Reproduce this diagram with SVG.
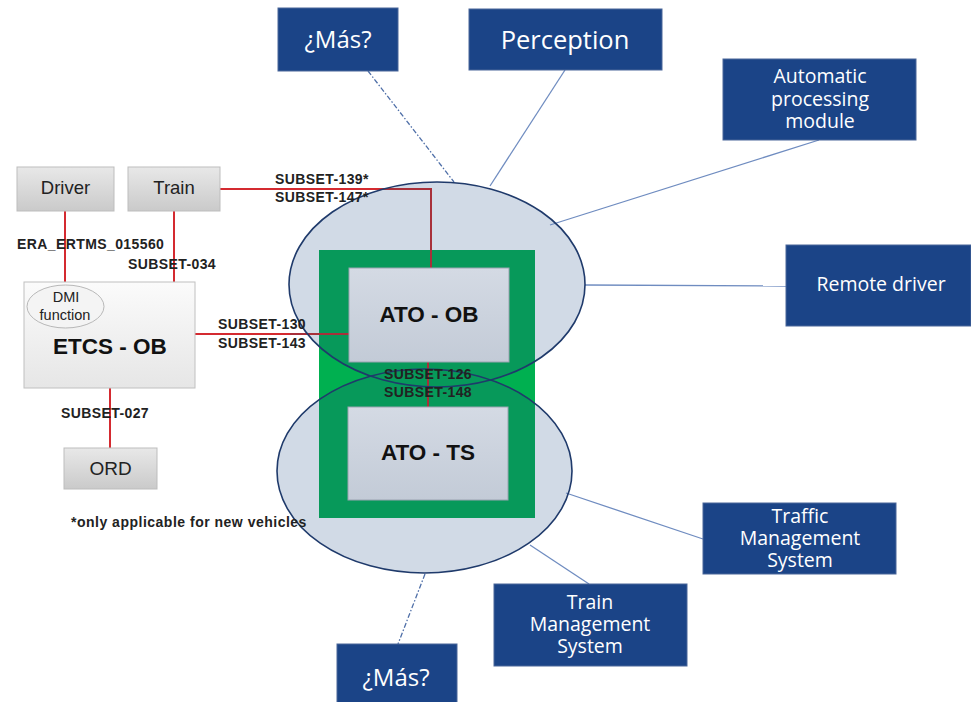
<svg xmlns="http://www.w3.org/2000/svg" width="971" height="702" viewBox="0 0 971 702">
<defs>
<style>
.gbox{fill:url(#gGray);stroke:#BDBDBD;stroke-width:1}
.gtxt{font-family:"Liberation Sans",Arial,sans-serif;font-size:18.5px;fill:#222;text-anchor:middle}
.lbl{font-family:"Liberation Sans",Arial,sans-serif;font-size:14px;font-weight:bold;fill:#222;letter-spacing:0.4px}
.bbox{fill:#1B4487;stroke:#4A6699;stroke-width:1}
.btxt{font-family:"Open Sans","Noto Sans",sans-serif;font-size:19.5px;fill:#FFFFFF;text-anchor:middle}
.big{font-size:25.5px}
.mas{font-size:24px}
.red{stroke:#D42A30;stroke-width:2;fill:none}
.dred{stroke:#A8303A;stroke-width:2;fill:none}
.blu{stroke:#6F8CC0;stroke-width:1.3;fill:none}
.dash{stroke:#4F6FA8;stroke-width:1.3;fill:none;stroke-dasharray:5 2 1.5 2}
.ell{fill:none;stroke:#1F3A6B;stroke-width:1.6}
.atobox{fill:url(#gAto);stroke:#9AA3B0;stroke-width:1}
.atotxt{font-family:"Liberation Sans",Arial,sans-serif;font-size:22.5px;font-weight:bold;fill:#111;text-anchor:middle}
</style>
<linearGradient id="gGray" x1="0" y1="0" x2="0" y2="1"><stop offset="0" stop-color="#E8E8E8"/><stop offset="1" stop-color="#CACACA"/></linearGradient>
<linearGradient id="gEtcs" x1="0" y1="0" x2="0" y2="1"><stop offset="0" stop-color="#FBFBFB"/><stop offset="1" stop-color="#E6E6E6"/></linearGradient>
<linearGradient id="gAto" x1="0" y1="0" x2="0" y2="1"><stop offset="0" stop-color="#D4DAE4"/><stop offset="1" stop-color="#C3CBD7"/></linearGradient>
<clipPath id="clipGreen"><rect x="319" y="250" width="216" height="268"/></clipPath>
</defs>
<rect x="0" y="0" width="971" height="702" fill="#FFFFFF"/>

<g id="ellipse-fills">
<ellipse cx="437" cy="284.5" rx="148" ry="102.5" fill="#D1DAE6"/>
<ellipse cx="424.5" cy="471" rx="147.5" ry="102" fill="#D1DAE6"/>
</g>

<g id="ato-frame">
<rect x="319" y="250" width="216" height="268" fill="#00B050"/>
<g clip-path="url(#clipGreen)">
<ellipse cx="437" cy="284.5" rx="148" ry="102.5" fill="#07995A"/>
<ellipse cx="424.5" cy="471" rx="147.5" ry="102" fill="#07995A"/>
</g>
</g>

<g id="connectors">
<line class="red" x1="65" y1="211" x2="65" y2="285"/>
<line class="red" x1="174" y1="211" x2="174" y2="282"/>
<polyline class="red" points="220,189 383,189"/>
<polyline class="dred" points="383,189 431,189 431,268"/>
<line class="red" x1="195" y1="334" x2="290" y2="334"/>
<line class="dred" x1="290" y1="334" x2="349" y2="334"/>
<line class="dred" x1="428" y1="362" x2="428" y2="407"/>
<line class="red" x1="110" y1="388" x2="110" y2="448"/>
<line class="dash" x1="368" y1="71" x2="454" y2="182"/>
<line class="blu" x1="565" y1="70" x2="490" y2="186"/>
<line class="blu" x1="819" y1="140" x2="550" y2="225"/>
<line class="blu" x1="585" y1="285" x2="786" y2="286"/>
<line class="blu" x1="566" y1="493" x2="703" y2="539"/>
<line class="blu" x1="530" y1="545" x2="589" y2="584"/>
<line class="dash" x1="425" y1="574" x2="398" y2="644"/>
</g>

<g id="ellipse-outlines">
<ellipse class="ell" cx="437" cy="284.5" rx="148" ry="102.5"/>
<ellipse class="ell" cx="424.5" cy="471" rx="147.5" ry="102"/>
</g>

<g id="ato-ob">
<rect class="atobox" x="349" y="268" width="160" height="94"/>
<text class="atotxt" x="429" y="322">ATO - OB</text>
</g>
<g id="ato-ts">
<rect class="atobox" x="348" y="407" width="160" height="93"/>
<text class="atotxt" x="428" y="460">ATO - TS</text>
</g>

<g id="driver">
<rect class="gbox" x="17" y="167" width="97" height="44"/>
<text class="gtxt" x="65.5" y="194">Driver</text>
</g>
<g id="train">
<rect class="gbox" x="128" y="167" width="92" height="44"/>
<text class="gtxt" x="174" y="194">Train</text>
</g>
<g id="etcs-ob">
<rect x="24" y="282" width="171" height="106" fill="url(#gEtcs)" stroke="#C0C0C0" stroke-width="1"/>
<ellipse cx="65.5" cy="306.5" rx="38.5" ry="21.5" fill="#F4F4F4" stroke="#B8B8B8" stroke-width="1"/>
<text x="66" y="302" font-family="Liberation Sans, Arial, sans-serif" font-size="14.5" fill="#222" text-anchor="middle">DMI</text>
<text x="65" y="320" font-family="Liberation Sans, Arial, sans-serif" font-size="14.5" fill="#222" text-anchor="middle">function</text>
<text x="110" y="354" font-family="Liberation Sans, Arial, sans-serif" font-size="22.5" font-weight="bold" fill="#111" text-anchor="middle">ETCS - OB</text>
</g>
<g id="ord">
<rect class="gbox" x="64" y="448" width="93" height="41"/>
<text class="gtxt" x="110.5" y="475" style="font-size:19px">ORD</text>
</g>

<g id="labels">
<text class="lbl" x="17" y="249">ERA_ERTMS_015560</text>
<text class="lbl" x="128" y="269">SUBSET-034</text>
<text class="lbl" x="275" y="184">SUBSET-139*</text>
<text class="lbl" x="275" y="202">SUBSET-147*</text>
<text class="lbl" x="218" y="329">SUBSET-130</text>
<text class="lbl" x="218" y="348">SUBSET-143</text>
<text class="lbl" x="384" y="379">SUBSET-126</text>
<text class="lbl" x="384" y="397">SUBSET-148</text>
<text class="lbl" x="61" y="418">SUBSET-027</text>
<text class="lbl" x="71" y="527" style="letter-spacing:0.5px">*only applicable for new vehicles</text>
</g>

<g id="mas-top">
<rect class="bbox" x="278" y="8" width="120" height="63"/>
<text class="btxt mas" x="338" y="48">¿Más?</text>
</g>
<g id="perception">
<rect class="bbox" x="469" y="9" width="193" height="61"/>
<text class="btxt big" x="565" y="49">Perception</text>
</g>
<g id="automatic-processing-module">
<rect class="bbox" x="723" y="59" width="193" height="81"/>
<text class="btxt" x="820" y="83">Automatic</text>
<text class="btxt" x="820" y="106">processing</text>
<text class="btxt" x="820" y="128">module</text>
</g>
<g id="remote-driver">
<rect class="bbox" x="786" y="245" width="185" height="81"/>
<text class="btxt" x="881" y="291">Remote driver</text>
</g>
<g id="traffic-management-system">
<rect class="bbox" x="703" y="503" width="193" height="71"/>
<text class="btxt" x="800" y="523">Traffic</text>
<text class="btxt" x="800" y="545">Management</text>
<text class="btxt" x="800" y="567">System</text>
</g>
<g id="train-management-system">
<rect class="bbox" x="494" y="584" width="193" height="82"/>
<text class="btxt" x="590" y="609">Train</text>
<text class="btxt" x="590" y="631">Management</text>
<text class="btxt" x="590" y="653">System</text>
</g>
<g id="mas-bottom">
<rect class="bbox" x="337" y="644" width="120" height="60"/>
<text class="btxt mas" x="396" y="686">¿Más?</text>
</g>
</svg>
